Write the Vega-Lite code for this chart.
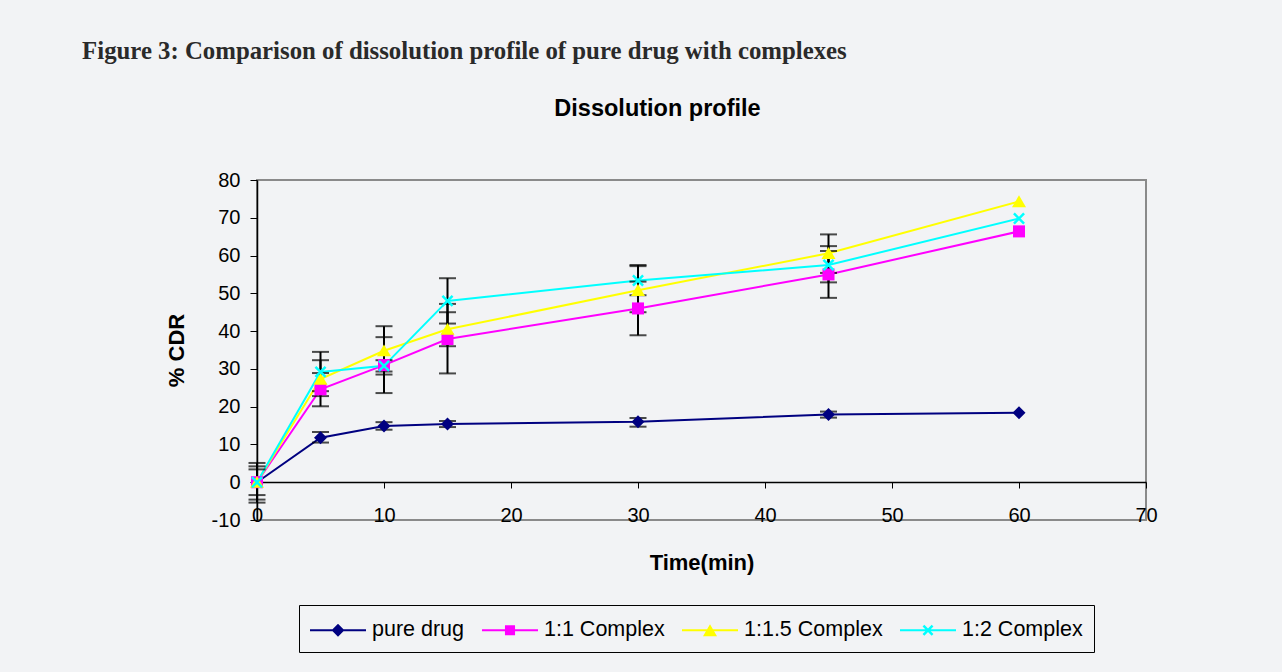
{
  "$schema": "https://vega.github.io/schema/vega-lite/v6.json",
  "background": "#f2f3f5",
  "padding": {"left": 82, "top": 38, "right": 140, "bottom": 30},
  "autosize": {"type": "pad"},
  "title": {
    "text": "Figure 3: Comparison of dissolution profile of pure drug with complexes",
    "anchor": "start",
    "font": "Liberation Serif",
    "fontSize": 24.8,
    "fontWeight": "bold",
    "color": "#2a2a2a",
    "dx": -82,
    "offset": 32
  },
  "datasets": {
    "pts": [
      {"series": "pure drug", "time": 0, "cdr": 0},
      {"series": "pure drug", "time": 5, "cdr": 11.8},
      {"series": "pure drug", "time": 10, "cdr": 14.9},
      {"series": "pure drug", "time": 15, "cdr": 15.4},
      {"series": "pure drug", "time": 30, "cdr": 16.0},
      {"series": "pure drug", "time": 45, "cdr": 17.9},
      {"series": "pure drug", "time": 60, "cdr": 18.4},
      {"series": "1:1 Complex", "time": 0, "cdr": 0},
      {"series": "1:1 Complex", "time": 5, "cdr": 24.6},
      {"series": "1:1 Complex", "time": 10, "cdr": 31.0},
      {"series": "1:1 Complex", "time": 15, "cdr": 37.9},
      {"series": "1:1 Complex", "time": 30, "cdr": 46.0},
      {"series": "1:1 Complex", "time": 45, "cdr": 55.0},
      {"series": "1:1 Complex", "time": 60, "cdr": 66.4},
      {"series": "1:1.5 Complex", "time": 0, "cdr": 0},
      {"series": "1:1.5 Complex", "time": 5, "cdr": 27.3},
      {"series": "1:1.5 Complex", "time": 10, "cdr": 34.8},
      {"series": "1:1.5 Complex", "time": 15, "cdr": 40.5},
      {"series": "1:1.5 Complex", "time": 30, "cdr": 50.8},
      {"series": "1:1.5 Complex", "time": 45, "cdr": 60.6},
      {"series": "1:1.5 Complex", "time": 60, "cdr": 74.3},
      {"series": "1:2 Complex", "time": 0, "cdr": 0},
      {"series": "1:2 Complex", "time": 5, "cdr": 29.2},
      {"series": "1:2 Complex", "time": 10, "cdr": 30.8},
      {"series": "1:2 Complex", "time": 15, "cdr": 48.0},
      {"series": "1:2 Complex", "time": 30, "cdr": 53.4},
      {"series": "1:2 Complex", "time": 45, "cdr": 57.5},
      {"series": "1:2 Complex", "time": 60, "cdr": 69.8}
    ],
    "err": [
      {"series": "pure drug", "time": 0, "lo": -5.4, "hi": 5.1},
      {"series": "pure drug", "time": 5, "lo": 10.5, "hi": 13.3},
      {"series": "pure drug", "time": 10, "lo": 13.9, "hi": 15.9},
      {"series": "pure drug", "time": 15, "lo": 14.6, "hi": 16.2},
      {"series": "pure drug", "time": 30, "lo": 14.7, "hi": 17.0},
      {"series": "pure drug", "time": 45, "lo": 17.1, "hi": 18.7},
      {"series": "1:1 Complex", "time": 0, "lo": -4.6, "hi": 4.2},
      {"series": "1:1 Complex", "time": 5, "lo": 20.1, "hi": 28.9},
      {"series": "1:1 Complex", "time": 10, "lo": 23.6, "hi": 38.4},
      {"series": "1:1 Complex", "time": 15, "lo": 28.8, "hi": 47.2},
      {"series": "1:1 Complex", "time": 30, "lo": 38.9, "hi": 53.1},
      {"series": "1:1 Complex", "time": 45, "lo": 48.8, "hi": 61.2},
      {"series": "1:1.5 Complex", "time": 0, "lo": -3.4, "hi": 3.4},
      {"series": "1:1.5 Complex", "time": 5, "lo": 22.8, "hi": 32.3},
      {"series": "1:1.5 Complex", "time": 10, "lo": 28.5, "hi": 41.3},
      {"series": "1:1.5 Complex", "time": 15, "lo": 36.0, "hi": 45.0},
      {"series": "1:1.5 Complex", "time": 30, "lo": 45.0, "hi": 57.2},
      {"series": "1:1.5 Complex", "time": 45, "lo": 55.4, "hi": 65.6},
      {"series": "1:2 Complex", "time": 5, "lo": 24.1, "hi": 34.5},
      {"series": "1:2 Complex", "time": 10, "lo": 29.3, "hi": 32.3},
      {"series": "1:2 Complex", "time": 15, "lo": 42.0, "hi": 54.0},
      {"series": "1:2 Complex", "time": 30, "lo": 49.5, "hi": 57.5},
      {"series": "1:2 Complex", "time": 45, "lo": 52.9, "hi": 62.5}
    ]
  },
  "vconcat": [
    {
      "width": 889,
      "height": 340,
      "title": {
        "text": "Dissolution profile",
        "anchor": "middle",
        "font": "Liberation Sans",
        "fontSize": 23.5,
        "fontWeight": "bold",
        "color": "#000000",
        "dx": -44,
        "offset": 50
      },
      "layer": [
        {
          "data": {"name": "pts"},
          "mark": {"type": "line", "strokeWidth": 2},
          "encoding": {
            "x": {
              "field": "time",
              "type": "quantitative",
              "title": "Time(min)",
              "scale": {"domain": [0, 70], "nice": false, "zero": false},
              "axis": {
                "values": [0, 10, 20, 30, 40, 50, 60, 70],
                "offset": -38,
                "tickSize": 6,
                "tickColor": "#000000",
                "domainColor": "#000000",
                "domainWidth": 1.5,
                "labelPadding": 17,
                "labelFlush": false,
                "labelOverlap": false,
                "labelFont": "Liberation Sans",
                "labelFontSize": 20,
                "labelColor": "#000000",
                "title": "Time(min)",
                "titleFont": "Liberation Sans",
                "titleFontSize": 22,
                "titleFontWeight": "bold",
                "titleColor": "#000000",
                "titlePadding": 27,
                "grid": false
              }
            },
            "y": {
              "field": "cdr",
              "type": "quantitative",
              "title": "% CDR",
              "scale": {"domain": [-10, 80], "nice": false, "zero": false},
              "axis": {
                "values": [-10, 0, 10, 20, 30, 40, 50, 60, 70, 80],
                "labelExpr": "replace(datum.label, '\u2212', '-')",
                "tickSize": 7,
                "tickColor": "#000000",
                "domainColor": "#000000",
                "domainWidth": 1.5,
                "labelPadding": 10,
                "labelOverlap": false,
                "labelSeparation": 0,
                "labelBound": false,
                "labelFont": "Liberation Sans",
                "labelFontSize": 20,
                "labelColor": "#000000",
                "title": "% CDR",
                "titleFont": "Liberation Sans",
                "titleFontSize": 22,
                "titleFontWeight": "bold",
                "titleColor": "#000000",
                "titlePadding": 23,
                "grid": false
              }
            },
            "color": {
              "field": "series",
              "type": "nominal",
              "scale": {
                "domain": ["pure drug", "1:1 Complex", "1:1.5 Complex", "1:2 Complex"],
                "range": ["#000080", "#ff00ff", "#ffff00", "#00ffff"]
              },
              "legend": null
            }
          }
        },
        {
          "data": {"name": "err"},
          "mark": {"type": "errorbar", "color": "#000000", "thickness": 2, "ticks": {"size": 17, "thickness": 2, "color": "#000000"}},
          "encoding": {
            "x": {"field": "time", "type": "quantitative", "title": "Time(min)", "axis": {"labelOverlap": false, "values": [0, 10, 20, 30, 40, 50, 60, 70]}},
            "y": {"field": "lo", "type": "quantitative", "title": "% CDR", "axis": {"labelOverlap": false, "values": [-10, 0, 10, 20, 30, 40, 50, 60, 70, 80]}},
            "y2": {"field": "hi"}
          }
        },
        {
          "data": {"name": "pts"},
          "mark": {"type": "point", "filled": true, "opacity": 1, "size": 196, "strokeWidth": 0},
          "encoding": {
            "x": {"field": "time", "type": "quantitative", "title": "Time(min)", "axis": {"labelOverlap": false, "values": [0, 10, 20, 30, 40, 50, 60, 70]}},
            "y": {"field": "cdr", "type": "quantitative", "title": "% CDR", "axis": {"labelOverlap": false, "values": [-10, 0, 10, 20, 30, 40, 50, 60, 70, 80]}},
            "color": {
              "field": "series",
              "type": "nominal",
              "scale": {
                "domain": ["pure drug", "1:1 Complex", "1:1.5 Complex", "1:2 Complex"],
                "range": ["#000080", "#ff00ff", "#ffff00", "#00ffff"]
              },
              "legend": null
            },
            "shape": {
              "field": "series",
              "type": "nominal",
              "scale": {
                "domain": ["pure drug", "1:1 Complex", "1:1.5 Complex", "1:2 Complex"],
                "range": [
                  "M0,-0.93L0.93,0L0,0.93L-0.93,0Z",
                  "M-0.86,-0.86H0.86V0.86H-0.86Z",
                  "M0,-0.9L1,0.8H-1Z",
                  "M-0.85,-0.6L-0.6,-0.85L0.85,0.6L0.6,0.85ZM0.85,-0.6L-0.6,0.85L-0.85,0.6L0.6,-0.85Z"
                ]
              },
              "legend": null
            }
          }
        },
        {
          "data": {"name": "pts"},
          "mark": {"type": "point", "filled": true, "opacity": 0, "size": 784, "strokeWidth": 0},
          "encoding": {
            "x": {"field": "time", "type": "quantitative", "title": "Time(min)", "axis": {"labelOverlap": false, "values": [0, 10, 20, 30, 40, 50, 60, 70]}},
            "y": {"field": "cdr", "type": "quantitative", "title": "% CDR", "axis": {"labelOverlap": false, "values": [-10, 0, 10, 20, 30, 40, 50, 60, 70, 80]}},
            "color": {
              "field": "series",
              "type": "nominal",
              "scale": {
                "domain": ["pure drug", "1:1 Complex", "1:1.5 Complex", "1:2 Complex"],
                "range": ["#000080", "#ff00ff", "#ffff00", "#00ffff"]
              },
              "legend": {
                "orient": "none",
                "legendX": 42,
                "legendY": 425,
                "direction": "horizontal",
                "title": null,
                "symbolSize": 784,
                "symbolOpacity": 1,
                "symbolStrokeWidth": 0,
                "labelFont": "Liberation Sans",
                "labelFontSize": 21.5,
                "labelColor": "#000000",
                "labelOffset": 34,
                "columnPadding": 17,
                "padding": 11,
                "strokeColor": "#000000",
                "labelLimit": 300
              }
            },
            "shape": {
              "field": "series",
              "type": "nominal",
              "scale": {
                "domain": ["pure drug", "1:1 Complex", "1:1.5 Complex", "1:2 Complex"],
                "range": [
                  "M-1,-0.071H3V0.071H-1ZM1,-0.46L1.46,0L1,0.46L0.54,0Z",
                  "M-1,-0.071H3V0.071H-1ZM0.64,-0.36H1.36V0.36H0.64Z",
                  "M-1,-0.071H3V0.071H-1ZM1,-0.43L1.5,0.43H0.5Z",
                  "M-1,-0.071H3V0.071H-1ZM0.61,-0.264L0.736,-0.39L1.39,0.264L1.264,0.39ZM1.39,-0.264L0.736,0.39L0.61,0.264L1.264,-0.39Z"
                ]
              },
              "legend": {
                "orient": "none",
                "legendX": 42,
                "legendY": 425,
                "direction": "horizontal",
                "title": null,
                "symbolSize": 784,
                "symbolOpacity": 1,
                "symbolStrokeWidth": 0,
                "labelFont": "Liberation Sans",
                "labelFontSize": 21.5,
                "labelColor": "#000000",
                "labelOffset": 34,
                "columnPadding": 17,
                "padding": 11,
                "strokeColor": "#000000",
                "labelLimit": 300
              }
            }
          }
        }
      ],
      "resolve": {"scale": {"shape": "independent", "color": "independent"}}
    }
  ],
  "config": {
    "view": {"stroke": "#8a8a8a", "strokeWidth": 2},
    "axis": {"grid": false, "labelOverlap": false},
    "axisY": {"labelOverlap": false}
  }
}
